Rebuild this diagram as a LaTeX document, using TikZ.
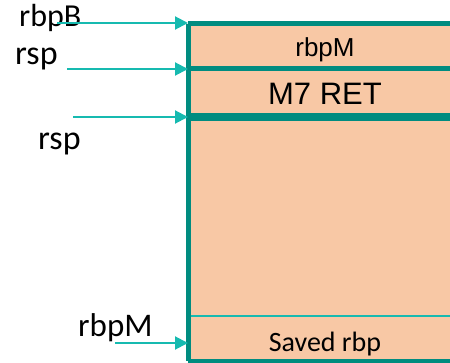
\documentclass[tikz,border=0pt]{standalone}
\usepackage{fontspec}
\setmainfont{Carlito}
\newfontfamily\arialf{Liberation Sans}
\usetikzlibrary{arrows.meta}
\definecolor{tealb}{RGB}{0,140,128}
\definecolor{cyana}{RGB}{22,186,176}
\definecolor{peach}{RGB}{248,200,165}
\tikzset{
  cell/.style={draw=none,fill=peach,minimum width=282pt,inner sep=0pt,anchor=north west},
  lbl/.style={anchor=base west,inner sep=0pt,font=\fontsize{32}{32}\selectfont},
  arr/.style={draw=cyana,line width=2pt,-{Triangle[length=13pt,width=13pt]}},
  sep/.style={draw=tealb,line width=5pt}
}
\begin{document}
\begin{tikzpicture}[x=1pt,y=-1pt]
\useasboundingbox (0,0) rectangle (450,363);
% cells
\node[cell,minimum height=45pt] (c1) at (188,24) {};
\node[cell,minimum height=48pt] (c2) at (188,69) {};
\node[cell,minimum height=199pt] (c3) at (188,117) {};
\node[cell,minimum height=45pt] (c4) at (188,316) {};
% outline and separators
\draw[sep] (c1.north west) -- (c4.south west);
\draw[sep] (c1.north west) -- (c1.north east);
\draw[sep] (c4.south west) -- (c4.south east);
\draw[sep] (c2.north west) -- (c2.north east);
\draw[tealb,line width=8pt] (c3.north west) -- (c3.north east);
\draw[cyana,line width=2pt] ([xshift=2.5pt]c4.north west) -- (c4.north east);
% cell texts
\node[anchor=base,inner sep=0pt,font=\arialf\fontsize{26}{26}\selectfont] (t1) at (325,57) {rbpM};
\node[anchor=base,inner sep=0pt,font=\arialf\fontsize{31}{31}\selectfont] (t2) at (325,105) {M7 RET};
\node[anchor=base,inner sep=0pt,font=\fontsize{28}{28}\selectfont] (t4) at (325,352) {Saved rbp};
% labels
\node[lbl] (l1) at (19,27) {rbpB};
\node[lbl,font=\fontsize{34}{34}\selectfont] (l2) at (15,65) {rsp};
\node[lbl,font=\fontsize{34}{34}\selectfont] (l3) at (38,150) {rsp};
\node[lbl,font=\fontsize{33}{33}\selectfont] (l4) at (78,337) {rbpM};
% arrows
\coordinate (s1) at (57,23);
\coordinate (s2) at (67,69);
\coordinate (s3) at (73,117);
\coordinate (s4) at (115,343);
\draw[arr] (s1) -- (s1 -| c1.west);
\draw[arr] (s2) -- (s2 -| c2.west);
\draw[arr] (s3) -- (s3 -| c3.west);
\draw[arr] (s4) -- (s4 -| c4.west);
\end{tikzpicture}
\end{document}
